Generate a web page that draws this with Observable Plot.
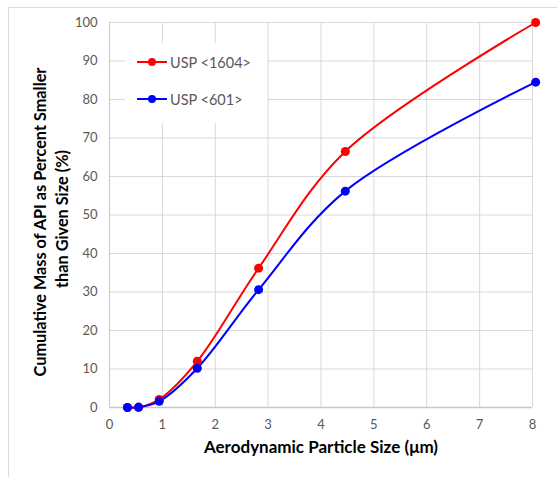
<!DOCTYPE html>
<html><head><meta charset="utf-8">
<script src="https://cdn.jsdelivr.net/npm/d3@7"></script>
<script src="https://cdn.jsdelivr.net/npm/@observablehq/plot@0.6"></script>
<style>
body{margin:0;background:#fff;}
#wrap{position:relative;width:557px;height:477px;font-family:Lato,"Open Sans",sans-serif;overflow:hidden;}
#frame{position:absolute;left:8px;top:7px;width:560px;height:480px;border-top:1px solid #dcdcdc;border-left:1px solid #dcdcdc;pointer-events:none;}
#legend{position:absolute;left:125px;top:43px;width:142px;height:80px;background:#fff;}
.item{position:absolute;left:12px;height:20px;display:flex;align-items:center;font-size:14.5px;color:#595959;white-space:nowrap;}
.item svg{margin-right:3px;}
</style></head>
<body>
<div id="wrap"><div id="chart"></div><div id="frame"></div><div id="legend"></div></div>
<script>
const sizes = [0.34, 0.55, 0.94, 1.66, 2.82, 4.46, 8.06];
const usp1604 = [0, 0, 2.1, 12.0, 36.2, 66.5, 100];
const usp601 = [0, 0.1, 1.6, 10.2, 30.6, 56.2, 84.5];
const seriesNames = ["USP <1604>", "USP <601>"];
const seriesColors = ["#ff0000", "#0000ff"];
const xTicks = [0, 1, 2, 3, 4, 5, 6, 7, 8];
const yTicks = [0, 10, 20, 30, 40, 50, 60, 70, 80, 90, 100];
const xTitle = "Aerodynamic Particle Size (\u03bcm)";
const yTitle1 = "Cumulative Mass of API as Percent Smaller";
const yTitle2 = "than Given Size (%)";

const rows = [];
[usp1604, usp601].forEach((vals, k) => {
  vals.forEach((v, i) => rows.push({series: seriesNames[k], x: sizes[i], y: v}));
});
const colorScale = {domain: seriesNames, range: seriesColors};

const chart = Plot.plot({
  width: 557, height: 477,
  marginLeft: 109, marginRight: 25, marginTop: 22, marginBottom: 70,
  style: {fontFamily: "Lato, sans-serif", fontSize: "13px", color: "#595959", background: "transparent", overflow: "visible"},
  x: {domain: [0, 8], ticks: xTicks, tickSize: 0, tickPadding: 12, label: null},
  y: {domain: [0, 100], ticks: yTicks, tickSize: 0, tickPadding: 12, label: null},
  color: colorScale,
  marks: [
    Plot.gridX(xTicks, {stroke: "#d9d9d9", strokeOpacity: 1, strokeWidth: 1}),
    Plot.gridY(yTicks, {stroke: "#d9d9d9", strokeOpacity: 1, strokeWidth: 1}),
    Plot.ruleY([0], {stroke: "#c8c8c8", strokeWidth: 1.5}),
    Plot.ruleX([0], {stroke: "#c8c8c8", strokeWidth: 1}),
    Plot.axisX(xTicks, {tickSize: 0, tickPadding: 12, fill: "#595959", fontSize: 13, label: null}),
    Plot.axisY(yTicks, {tickSize: 0, tickPadding: 12, fill: "#595959", fontSize: 13, label: null}),
    Plot.line(rows, {x: "x", y: "y", z: "series", stroke: "series", strokeWidth: 2, curve: "catmull-rom"}),
    Plot.dot(rows, {x: "x", y: "y", fill: "series", r: 4.5}),
    Plot.text([xTitle], {frameAnchor: "bottom", dy: 45, fontSize: 17, fontWeight: "bold", fill: "#000"}),
    Plot.text([yTitle1], {frameAnchor: "left", textAnchor: "middle", dx: -69, dy: 7, rotate: -90, fontSize: 16.3, fontWeight: "bold", fill: "#000"}),
    Plot.text([yTitle2], {frameAnchor: "left", textAnchor: "middle", dx: -47, dy: 4, rotate: -90, fontSize: 16.3, fontWeight: "bold", fill: "#000"})
  ]
});
document.getElementById("chart").appendChild(chart);

const legend = document.getElementById("legend");
seriesNames.forEach((name, k) => {
  const div = document.createElement("div");
  div.className = "item";
  div.style.top = (9 + k * 37) + "px";
  div.innerHTML = `<svg width="30" height="10"><line x1="0" y1="5" x2="30" y2="5" stroke="${seriesColors[k]}" stroke-width="2"/><circle cx="15" cy="5" r="4" fill="${seriesColors[k]}"/></svg>`;
  const span = document.createElement("span");
  span.textContent = name;
  div.appendChild(span);
  legend.appendChild(div);
});
</script>
</body></html>
